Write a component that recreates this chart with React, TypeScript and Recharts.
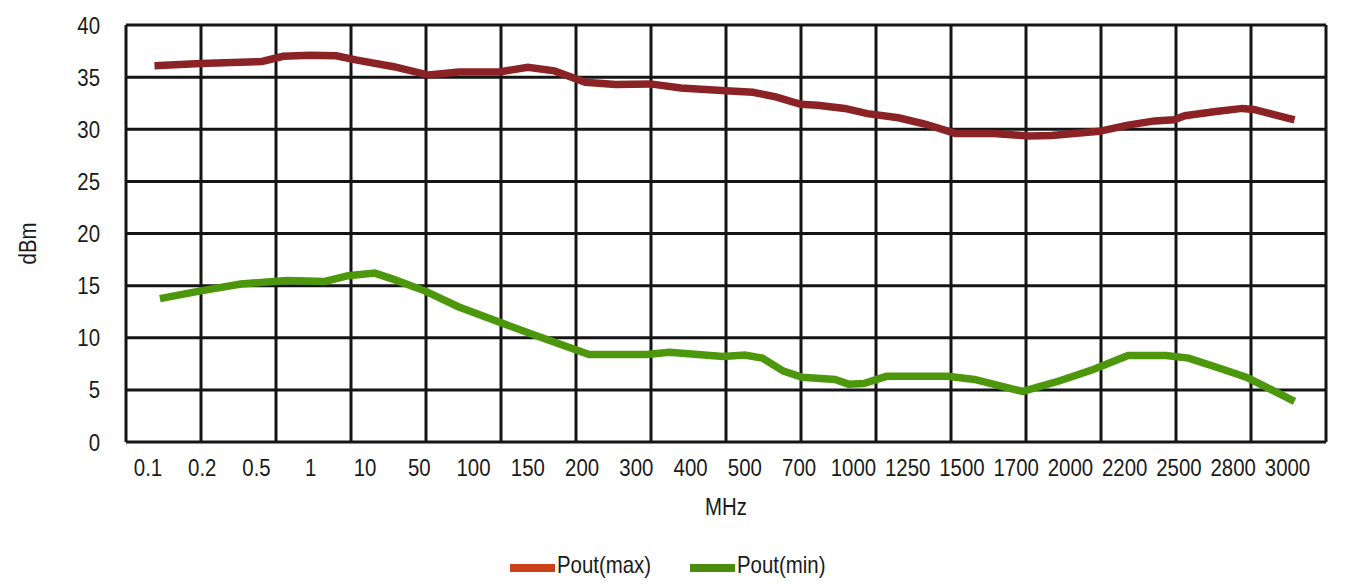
import { LineChart, Line, XAxis, YAxis, CartesianGrid } from "recharts";

// frequency points printed under the chart (MHz)
const freqLabels = [
  "0.1", "0.2", "0.5", "1", "10", "50", "100", "150", "200", "300", "400",
  "500", "700", "1000", "1250", "1500", "1700", "2000", "2200", "2500", "2800", "3000",
];
const freqTicks = freqLabels.map((_, i) => i);

const dbmTicks = [0, 5, 10, 15, 20, 25, 30, 35, 40];
// the grid in the original has 16 columns that don't line up with the labels
const GRID_COLS = 16;

// positions are in label units (0 = "0.1", 21 = "3000")
const maxPos = [
  0.12, 0.97, 2.1, 2.49, 2.98, 3.47, 3.83, 4.53, 5.17, 5.73, 6.47, 7.0, 7.49,
  8.06, 8.62, 9.26, 9.82, 10.65, 11.15, 11.57, 12.03, 12.34, 12.84, 13.26,
  13.83, 14.32, 14.88, 15.59, 16.22, 16.65, 17.53, 18.06, 18.55, 18.91, 19.11,
  19.68, 20.17, 20.38, 21.13,
];
const poutMax = [
  36.1, 36.3, 36.5, 37.0, 37.1, 37.05, 36.65, 36.0, 35.2, 35.5, 35.5, 35.95,
  35.6, 34.5, 34.3, 34.35, 33.95, 33.7, 33.55, 33.1, 32.4, 32.3, 32.0, 31.5,
  31.1, 30.5, 29.6, 29.6, 29.35, 29.4, 29.8, 30.4, 30.8, 30.9, 31.3, 31.7,
  32.0, 31.9, 30.9,
];

const minPos = [
  0.22, 0.97, 1.71, 2.56, 3.26, 3.69, 4.18, 4.53, 5.1, 5.73, 6.47, 7.21, 8.13,
  9.19, 9.61, 10.6, 11.0, 11.32, 11.71, 12.06, 12.66, 12.91, 13.19, 13.61,
  14.74, 15.23, 16.12, 16.79, 17.42, 18.06, 18.76, 19.18, 19.82, 20.25, 21.13,
];
const poutMin = [
  13.75, 14.5, 15.15, 15.5, 15.4, 15.95, 16.2, 15.6, 14.5, 12.95, 11.5, 10.1,
  8.4, 8.4, 8.6, 8.2, 8.35, 8.05, 6.8, 6.2, 6.0, 5.55, 5.6, 6.3, 6.3, 6.0,
  4.85, 5.85, 6.95, 8.3, 8.3, 8.05, 6.95, 6.2, 3.9,
];

const maxData = maxPos.map((x, i) => ({ x, v: poutMax[i] }));
const minData = minPos.map((x, i) => ({ x, v: poutMin[i] }));

// no narrow font installed, so squeeze Liberation Sans horizontally
const font = '"Liberation Sans", Arial, sans-serif';
const SQUEEZE = 0.85;
const FS = 24;
const ink = "#1a1a1a";

const XTick = (props: any) => {
  const { x, y, payload } = props;
  return (
    <g transform={`translate(${x},${y})`}>
      <text
        transform={`scale(${SQUEEZE},1)`}
        textAnchor="middle"
        dy="0.71em"
        fontFamily={font}
        fontSize={FS}
        fill={ink}
      >
        {freqLabels[payload.value]}
      </text>
    </g>
  );
};

const YTick = (props: any) => {
  const { x, y, payload } = props;
  return (
    <g transform={`translate(${x},${y})`}>
      <text
        transform={`scale(${SQUEEZE},1)`}
        textAnchor="end"
        dy="0.355em"
        fontFamily={font}
        fontSize={FS}
        fill={ink}
      >
        {payload.value}
      </text>
    </g>
  );
};

const XTitle = (props: any) => {
  const { viewBox } = props;
  const cx = viewBox.x + viewBox.width / 2;
  const by = viewBox.y + viewBox.height - 7;
  return (
    <g transform={`translate(${cx},${by}) scale(${SQUEEZE},1)`}>
      <text textAnchor="middle" fontFamily={font} fontSize={FS} fill={ink}>
        MHz
      </text>
    </g>
  );
};

const YTitle = (props: any) => {
  const { viewBox } = props;
  const cx = viewBox.x + 11;
  const cy = viewBox.y + viewBox.height / 2 + 10;
  return (
    <g transform={`translate(${cx},${cy}) rotate(-90) scale(${SQUEEZE},1)`}>
      <text textAnchor="middle" dy="0.355em" fontFamily={font} fontSize={FS} fill={ink}>
        dBm
      </text>
    </g>
  );
};

const legendItems = [
  { name: "Pout(max)", color: "#cc4119", left: 510 },
  { name: "Pout(min)", color: "#4b8b10", left: 690 },
];

export default function App() {
  return (
    <div
      style={{
        position: "absolute",
        left: 0,
        top: 0,
        width: 1345,
        height: 584,
        background: "#fff",
        fontFamily: font,
      }}
    >
      <LineChart
        width={1345}
        height={584}
        margin={{ top: 25, right: 19, bottom: 62, left: 16 }}
      >
        <CartesianGrid
          stroke="#151515"
          strokeWidth={3}
          verticalCoordinatesGenerator={({ offset }: any) =>
            Array.from({ length: GRID_COLS + 1 }, (_, k) => offset.left + (k * offset.width) / GRID_COLS)
          }
        />
        <XAxis
          dataKey="x"
          type="number"
          domain={[-0.405, 21.71]}
          ticks={freqTicks}
          interval={0}
          axisLine={false}
          tickLine={false}
          tickMargin={11}
          height={80}
          tick={<XTick />}
          label={<XTitle />}
        />
        <YAxis
          type="number"
          domain={[0, 40]}
          ticks={dbmTicks}
          interval={0}
          axisLine={false}
          tickLine={false}
          tickMargin={20}
          width={110}
          tick={<YTick />}
          label={<YTitle />}
        />
        <Line
          data={maxData}
          dataKey="v"
          type="linear"
          stroke="#8b2326"
          strokeWidth={7.5}
          dot={false}
          isAnimationActive={false}
        />
        <Line
          data={minData}
          dataKey="v"
          type="linear"
          stroke="#4d970c"
          strokeWidth={7.5}
          dot={false}
          isAnimationActive={false}
        />
      </LineChart>

      {legendItems.map((it) => (
        <div key={it.name}>
          <span
            style={{
              position: "absolute",
              left: it.left,
              top: 564,
              width: 45,
              height: 8,
              background: it.color,
            }}
          />
          <span
            style={{
              position: "absolute",
              left: it.left + 47,
              top: 552,
              fontSize: FS,
              lineHeight: "26px",
              color: ink,
              whiteSpace: "nowrap",
              transform: `scaleX(${SQUEEZE})`,
              transformOrigin: "left center",
            }}
          >
            {it.name}
          </span>
        </div>
      ))}
    </div>
  );
}
